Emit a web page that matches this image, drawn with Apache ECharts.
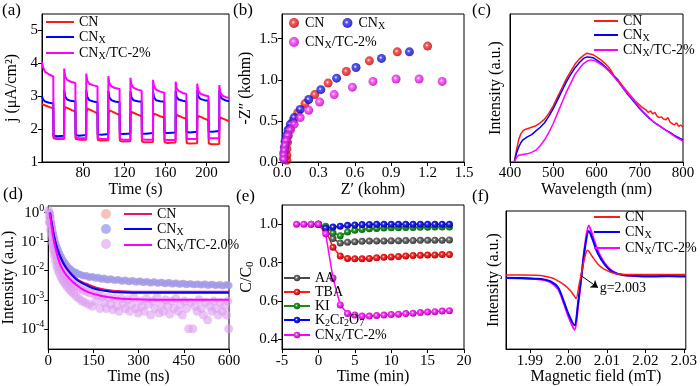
<!DOCTYPE html>
<html><head><meta charset="utf-8">
<script src="https://cdn.jsdelivr.net/npm/echarts@6/dist/echarts.min.js"></script>
<style>html,body{margin:0;padding:0;background:#fff}#c{width:700px;height:386px}</style>
</head><body><div id="c"></div>
<script>
// ---------- (a) transient photocurrent: [time s, j µA/cm2]
const aTicks = [80,120,160,200];
const aCN = [[40,2.76],[44,2.71],[48,2.66],[51,2.63],[51.3,1.72],[54,1.7],[61.5,1.7],
 [61.7,2.55],[62.6,2.67],[65,2.64],[69,2.58],[72.5,2.53],[72.8,1.7],[76,1.68],[83,1.68],
 [83.2,2.5],[84.1,2.62],[86.5,2.59],[90,2.54],[94,2.48],[94.3,1.67],[97,1.65],[104.5,1.66],
 [104.7,2.46],[105.6,2.57],[108,2.54],[112,2.48],[115.5,2.43],[115.8,1.65],[118,1.62],[126,1.63],
 [126.2,2.42],[127.1,2.52],[129.5,2.49],[133,2.44],[137,2.39],[137.3,1.62],[140,1.6],[148,1.61],
 [148.2,2.38],[149.1,2.47],[151.5,2.44],[155,2.39],[159,2.35],[159.3,1.6],[162,1.58],[170,1.59],
 [170.2,2.34],[171.1,2.43],[173.5,2.4],[177,2.35],[180.5,2.31],[180.8,1.58],[183,1.56],[191,1.57],
 [191.2,2.3],[192.1,2.4],[194.5,2.37],[198,2.32],[202,2.27],[202.3,1.56],[205,1.54],[212.5,1.55],
 [212.7,2.27],[213.6,2.36],[216,2.32],[219,2.28],[222,2.24]];
const aCNX = [[40,3.0],[41,2.9],[43,2.84],[47,2.8],[51,2.78],[51.2,1.8],[55,1.78],[61.5,1.8],
 [61.6,3.2],[62.5,3.0],[64.5,2.9],[68,2.86],[72.5,2.84],[72.7,1.82],[76,1.8],[83,1.82],
 [83.1,3.18],[84,2.98],[86,2.88],[90,2.84],[94,2.82],[94.2,1.84],[98,1.83],[104.5,1.85],
 [104.6,3.16],[105.5,2.97],[107.5,2.88],[111,2.84],[115.5,2.82],[115.7,1.86],[119,1.85],[126,1.87],
 [126.1,3.15],[127,2.97],[129,2.88],[133,2.85],[137,2.83],[137.2,1.87],[141,1.86],[148,1.88],
 [148.1,3.15],[149,2.97],[151,2.88],[155,2.85],[159,2.83],[159.2,1.89],[163,1.88],[170,1.9],
 [170.1,3.16],[171,2.98],[173,2.9],[177,2.86],[180.5,2.84],[180.7,1.91],[184,1.9],[191,1.92],
 [191.1,3.18],[192,3.0],[194,2.92],[198,2.88],[202,2.86],[202.2,1.93],[206,1.92],[212.5,1.94],
 [212.6,3.2],[213.5,3.0],[215.5,2.92],[219,2.87],[222,2.85]];
const aTC = [[40,4.05],[41,3.88],[43,3.74],[47,3.66],[51,3.6],[51.2,1.75],[55,1.72],[61.5,1.72],
 [61.6,3.84],[62.5,3.6],[64.5,3.5],[68,3.44],[72.5,3.4],[72.7,1.74],[76,1.72],[83,1.72],
 [83.1,3.69],[84,3.48],[86,3.38],[90,3.33],[94,3.3],[94.2,1.72],[98,1.7],[104.5,1.7],
 [104.6,3.61],[105.5,3.4],[107.5,3.3],[111,3.25],[115.5,3.22],[115.7,1.7],[119,1.68],[126,1.68],
 [126.1,3.56],[127,3.36],[129,3.26],[133,3.2],[137,3.17],[137.2,1.69],[141,1.68],[148,1.68],
 [148.1,3.5],[149,3.3],[151,3.2],[155,3.14],[159,3.11],[159.2,1.68],[163,1.67],[170,1.67],
 [170.1,3.44],[171,3.25],[173,3.16],[177,3.1],[180.5,3.07],[180.7,1.7],[184,1.7],[191,1.7],
 [191.1,3.38],[192,3.18],[194,3.08],[198,3.03],[202,3.0],[202.2,1.72],[206,1.72],[212.5,1.72],
 [212.6,3.34],[213.5,3.12],[215.5,3.02],[219,2.97],[222,2.95]];

// ---------- (b) Nyquist: [Z' kohm, -Z'' kohm]
const bCN = [[1.2,1.41],[0.95,1.34],[0.72,1.23],[0.53,1.1],[0.38,0.96],[0.27,0.82],[0.19,0.71],[0.13,0.6],[0.09,0.5],[0.065,0.41],[0.05,0.32],[0.045,0.24],[0.04,0.16],[0.04,0.08],[0.04,0.02]];
const bCNX = [[1.05,1.34],[0.82,1.26],[0.61,1.15],[0.45,1.02],[0.32,0.88],[0.22,0.76],[0.15,0.64],[0.1,0.54],[0.07,0.46],[0.05,0.39],[0.035,0.32],[0.025,0.25],[0.02,0.18],[0.015,0.11],[0.015,0.04]];
const bTC = [[1.32,0.98],[1.13,1.01],[0.94,1.01],[0.75,0.98],[0.58,0.91],[0.43,0.82],[0.31,0.73],[0.22,0.63],[0.15,0.54],[0.1,0.46],[0.07,0.39],[0.05,0.32],[0.035,0.26],[0.025,0.2],[0.02,0.14],[0.015,0.08],[0.015,0.03]];

// ---------- (c) PL spectra: [wavelength nm, intensity a.u.]
const cCN = [[410,0],[415,0.08],[420,0.15],[425,0.19],[430,0.21],[435,0.22],[440,0.225],[450,0.235],[460,0.245],[470,0.265],[480,0.29],[490,0.33],[500,0.38],[510,0.44],[520,0.5],[530,0.56],[540,0.61],[550,0.66],[560,0.695],[570,0.72],[578,0.735],[585,0.73],[592,0.725],[600,0.71],[610,0.69],[620,0.665],[628,0.64],[632,0.625],[636,0.615],[640,0.585],[650,0.555],[660,0.515],[670,0.48],[680,0.445],[690,0.41],[700,0.385],[705,0.37],[710,0.36],[715,0.35],[720,0.335],[725,0.345],[730,0.325],[735,0.335],[740,0.31],[745,0.3],[750,0.305],[755,0.29],[760,0.285],[765,0.3],[770,0.27],[775,0.26],[780,0.25],[785,0.265],[790,0.24],[795,0.25],[800,0.235]];
const cCNX = [[410,0],[415,0.06],[420,0.1],[425,0.13],[430,0.15],[440,0.17],[450,0.185],[460,0.21],[470,0.235],[480,0.265],[490,0.31],[500,0.36],[510,0.42],[520,0.48],[530,0.54],[540,0.59],[550,0.635],[560,0.67],[570,0.7],[578,0.71],[585,0.708],[592,0.705],[600,0.69],[610,0.67],[620,0.645],[630,0.615],[640,0.58],[650,0.545],[660,0.505],[670,0.465],[680,0.43],[690,0.395],[700,0.36],[710,0.33],[720,0.3],[730,0.275],[740,0.255],[750,0.235],[760,0.215],[770,0.2],[780,0.18],[790,0.165],[800,0.15]];
const cTC = [[410,0],[415,0.03],[420,0.045],[430,0.05],[440,0.055],[450,0.065],[460,0.08],[470,0.11],[480,0.15],[490,0.2],[500,0.26],[510,0.33],[520,0.4],[530,0.47],[540,0.53],[550,0.59],[560,0.63],[570,0.665],[580,0.685],[587,0.69],[595,0.685],[605,0.67],[615,0.65],[625,0.625],[635,0.595],[645,0.56],[655,0.525],[665,0.49],[675,0.455],[685,0.42],[695,0.385],[705,0.35],[715,0.32],[725,0.29],[735,0.265],[745,0.245],[755,0.225],[765,0.205],[775,0.185],[785,0.165],[795,0.15],[800,0.14]];

// ---------- (d) TRPL decay: [time ns, intensity]
const dCN = [[2,0.5],[5,0.95],[8,0.8],[11,0.5],[14,0.32],[17,0.21],[20,0.15],[24,0.1],[28,0.07],[32,0.052],[37,0.04],[42,0.031],[47,0.025],[53,0.02],[59,0.016],[66,0.013],[73,0.011],[80,0.0098],[88,0.0088],[96,0.008],[105,0.0074],[114,0.0068],[123,0.0066],[132,0.0061],[141,0.0058],[150,0.0062],[160,0.0054],[170,0.0056],[180,0.005],[190,0.0053],[200,0.0047],[212,0.0051],[224,0.0045],[236,0.0049],[248,0.0043],[260,0.0047],[272,0.0042],[284,0.0045],[296,0.004],[308,0.0044],[320,0.0039],[332,0.0042],[344,0.0038],[356,0.0041],[368,0.0037],[380,0.004],[392,0.0036],[404,0.0039],[416,0.0035],[428,0.0038],[440,0.0034],[452,0.0037],[464,0.0034],[476,0.0036],[488,0.0033],[500,0.0035],[512,0.0032],[524,0.0035],[536,0.0032],[548,0.0034],[560,0.0031],[572,0.0034],[584,0.0031],[596,0.0033]];
const dCNX = [[3,0.7],[6,1.0],[9,0.7],[12,0.42],[15,0.28],[18,0.19],[22,0.125],[26,0.085],[30,0.063],[34,0.05],[39,0.038],[44,0.03],[50,0.023],[56,0.019],[62,0.0155],[69,0.0128],[76,0.011],[84,0.0095],[92,0.0088],[100,0.0078],[109,0.0073],[118,0.0066],[127,0.0069],[136,0.006],[145,0.0064],[155,0.0056],[165,0.006],[175,0.0052],[185,0.0056],[195,0.0049],[206,0.0053],[218,0.0047],[230,0.005],[242,0.0044],[254,0.0048],[266,0.0042],[278,0.0046],[290,0.0041],[302,0.0044],[314,0.0039],[326,0.0043],[338,0.0038],[350,0.0042],[362,0.0037],[374,0.004],[386,0.0036],[398,0.0039],[410,0.0035],[422,0.0038],[434,0.0034],[446,0.0037],[458,0.0033],[470,0.0036],[482,0.0033],[494,0.0035],[506,0.0032],[518,0.0035],[530,0.0031],[542,0.0034],[554,0.0031],[566,0.0033],[578,0.003],[590,0.0033],[600,0.0031]];
const dTC = [[1,1.2],[3,1.0],[5,0.7],[4,0.45],[7,0.45],[8,0.25],[10,0.3],[11,0.15],[13,0.18],[14,0.09],[16,0.1],[17,0.055],[19,0.065],[20,0.035],[22,0.045],[24,0.022],[26,0.032],[28,0.015],[30,0.024],[32,0.011],[34,0.018],[36,0.0085],[39,0.014],[41,0.0065],[44,0.011],[46,0.0052],[49,0.0088],[51,0.0042],[55,0.0072],[57,0.0034],[61,0.006],[63,0.0028],[67,0.005],[70,0.0023],[74,0.0042],[77,0.0019],[81,0.0036],[85,0.0016],[89,0.0031],[93,0.0013],[97,0.0027],[102,0.0011],[107,0.0024],[112,0.0009],[117,0.0021],[122,0.0008],[128,0.0019],[134,0.0007],[140,0.0017],[146,0.0006],[152,0.0016],[158,0.0009],[165,0.0014],[172,0.0005],[179,0.0013],[186,0.0008],[193,0.0005],[200,0.0012],[207,0.0007],[214,0.00045],[221,0.0011],[228,0.0006],[235,0.0004],[242,0.0011],[249,0.00075],[256,0.0005],[263,0.001],[270,0.0004],[277,0.0007],[284,0.0012],[291,0.0005],[298,0.00035],[305,0.0009],[312,0.0006],[319,0.0004],[326,0.0011],[333,0.0007],[340,0.0003],[347,0.0009],[354,0.0005],[361,0.0012],[368,0.00035],[375,0.0007],[382,0.0004],[389,0.001],[396,0.0006],[403,0.00032],[410,0.0009],[417,0.0005],[424,0.0011],[431,0.0004],[438,0.0007],[445,0.0003],[452,0.0009],[459,0.0005],[466,0.0001],[473,0.0008],[480,0.0001],[487,0.0006],[494,0.0004],[501,0.001],[508,0.0005],[515,0.0003],[522,0.0008],[529,0.0002],[536,0.0006],[543,0.0004],[550,0.0009],[557,0.0005],[564,0.0003],[571,0.0008],[578,0.0004],[585,0.0006],[592,0.0003],[596,0.0009],[599,0.0001]];
const dFitCN = [[6,1.0],[10,0.55],[15,0.28],[20,0.15],[28,0.07],[36,0.04],[46,0.023],[57,0.0145],[70,0.0095],[84,0.0066],[100,0.0048],[128,0.0035],[160,0.0026],[192,0.0022],[230,0.002],[280,0.0019],[350,0.0019],[600,0.0019]];
const dFitCNX = [[6,1.0],[10,0.53],[15,0.27],[20,0.145],[28,0.068],[36,0.038],[46,0.022],[57,0.0138],[70,0.009],[84,0.0062],[100,0.0045],[128,0.0031],[160,0.0023],[192,0.002],[230,0.0018],[280,0.00175],[350,0.00175],[600,0.00175]];
const dFitTC = [[4,1.0],[8,0.6],[13,0.25],[19.5,0.1],[27,0.045],[36,0.021],[48,0.011],[63,0.0065],[80,0.0043],[106,0.0026],[135,0.0018],[171,0.0014],[220,0.00115],[279,0.00105],[400,0.001],[600,0.001]];
const dTicks = [1e-4,1e-3,1e-2,1e-1,1];

// ---------- (e) trapping experiments: [time min, C/C0]
const eAA = [[-1,1.0],[0,1.0],[1,0.977],[2,0.925],[3,0.902],[4,0.906],[5,0.909],[6,0.911],[7,0.912],[8,0.913],[9,0.913],[10,0.914],[11,0.914],[12,0.915],[13,0.915],[14,0.916],[15,0.916],[16,0.917],[17,0.917],[18,0.918]];
const eTBA = [[0,1.0],[1,0.97],[2,0.88],[3,0.835],[4,0.822],[5,0.82],[6,0.82],[7,0.822],[8,0.825],[9,0.828],[10,0.83],[11,0.832],[12,0.835],[13,0.837],[14,0.838],[15,0.84],[16,0.84],[17,0.842],[18,0.842]];
const eKI = [[0,1.0],[1,0.99],[2,0.955],[3,0.94],[4,0.96],[5,0.968],[6,0.973],[7,0.976],[8,0.978],[9,0.98],[10,0.981],[11,0.982],[12,0.983],[13,0.983],[14,0.984],[15,0.984],[16,0.985],[17,0.985],[18,0.985]];
const eK2 = [[0,1.0],[1,0.98],[2,0.985],[3,0.99],[4,0.994],[5,0.996],[6,0.998],[7,0.999],[8,1.0],[9,1.0],[10,1.0],[11,1.0],[12,1.0],[13,1.0],[14,1.0],[15,1.0],[16,1.0],[17,1.0],[18,1.0]];
const eTC = [[-3,1.0],[-2,1.0],[-1,1.0],[0,1.0],[1,0.95],[2,0.72],[3,0.58],[4,0.535],[5,0.527],[6,0.522],[7,0.522],[8,0.525],[9,0.527],[10,0.53],[11,0.532],[12,0.535],[13,0.537],[14,0.54],[15,0.543],[16,0.545],[17,0.548],[18,0.55]];
const eYTicks = [0.4,0.6,0.8,1.0];

// ---------- (f) EPR: [field mT, intensity a.u.]
const fCN = [[1.9838,0.537],[1.988,0.537],[1.9915,0.535],[1.9936,0.53],[1.996,0.513],[1.9973,0.494],[1.9992,0.46],[2.0006,0.42],[2.0014,0.39],[2.002,0.366],[2.0028,0.47],[2.0034,0.55],[2.0044,0.68],[2.005,0.715],[2.0062,0.67],[2.0077,0.615],[2.0095,0.575],[2.0124,0.545],[2.016,0.54],[2.02,0.54],[2.025,0.54],[2.0305,0.54]];
const fCNX = [[1.9838,0.517],[1.988,0.515],[1.9915,0.51],[1.9936,0.505],[1.9954,0.49],[1.9973,0.448],[1.9987,0.355],[2.0001,0.25],[2.0016,0.173],[2.0025,0.33],[2.0034,0.53],[2.0044,0.75],[2.0053,0.855],[2.0062,0.8],[2.0077,0.69],[2.0095,0.61],[2.0114,0.56],[2.0142,0.536],[2.018,0.53],[2.022,0.527],[2.026,0.53],[2.0305,0.528]];
const fTC = [[1.9838,0.515],[1.988,0.512],[1.9915,0.507],[1.9936,0.5],[1.9954,0.483],[1.9973,0.435],[1.9987,0.34],[2.0001,0.23],[2.0016,0.14],[2.0025,0.31],[2.0034,0.53],[2.0044,0.77],[2.0053,0.895],[2.0062,0.83],[2.0077,0.71],[2.0095,0.62],[2.0114,0.565],[2.0142,0.536],[2.018,0.528],[2.022,0.525],[2.026,0.527],[2.0305,0.525]];
const fTicks = [1.99,2.00,2.01,2.02,2.03];
const fArrow = [[2.0034,0.53],[2.0077,0.445]];

// ---------- styling
const FONT = '"Liberation Serif","Times New Roman",serif';
const RICH = {
  n:{fontFamily:FONT,fontSize:14,color:'#000',lineHeight:16},
  s:{fontFamily:FONT,fontSize:10,color:'#000',lineHeight:8,verticalAlign:'bottom'},
  b:{fontFamily:FONT,fontSize:15,color:'#000',lineHeight:18},
  p:{fontFamily:FONT,fontSize:10,color:'#000',lineHeight:8,verticalAlign:'top'},
  nm:{fontFamily:FONT,fontSize:16,color:'#000',lineHeight:18},
  ns:{fontFamily:FONT,fontSize:11,color:'#000',lineHeight:9,verticalAlign:'bottom'}
};
const LBL = {CN:'{n|CN}',CNX:'{n|CN}{s|X}',TC:'{n|CN}{s|X}{n|/TC-2%}',TC20:'{n|CN}{s|X}{n|/TC-2.0%}',
  AA:'{n|AA}',TBA:'{n|TBA}',KI:'{n|KI}',K2:'{n|K}{s|2}{n|Cr}{s|2}{n|O}{s|7}'};
const fmt = name => LBL[name.split('|')[1]] || '{n| }';
const RED='#ff1a1a', BLUE='#0000ff', MAG='#ff00ff';
function sphere(c, d){return {type:'radial',x:0.42,y:0.42,r:0.6,colorStops:[{offset:0,color:'#ffffff'},{offset:0.3,color:c},{offset:1,color:d}]};}

const lineAx = {show:true,onZero:false,lineStyle:{color:'#000',width:1}};
function ax(gi, o){
  const base = {gridIndex:gi,type:'value',axisLine:lineAx,splitLine:{show:false},
    axisTick:{show:true,inside:false,length:4,lineStyle:{color:'#000'}},
    axisLabel:{color:'#000',fontFamily:FONT,fontSize:15,margin:4},
    nameLocation:'middle',nameTextStyle:{fontFamily:FONT,fontSize:16,color:'#000'}};
  const r = Object.assign({}, base, o);
  if (o.axisLabel) r.axisLabel = Object.assign({}, base.axisLabel, o.axisLabel);
  if (o.axisTick) r.axisTick = Object.assign({}, base.axisTick, o.axisTick);
  if (o.nameTextStyle) r.nameTextStyle = Object.assign({}, base.nameTextStyle, o.nameTextStyle);
  return r;
}
const f1 = v => v.toFixed(1), f2 = v => v.toFixed(2);
const grid = (l,t,w,h)=>({left:l,top:t,width:w,height:h,show:true,borderColor:'#000',borderWidth:1,backgroundColor:'transparent'});
function lg(o){return Object.assign({orient:'vertical',padding:0,itemGap:1,itemWidth:28,itemHeight:10,formatter:fmt,selectedMode:false,
  textStyle:{fontFamily:FONT,fontSize:14,color:'#000',rich:RICH}},o);}
// legends made of plain line strokes (line series without markers)
function lgLine(o){return lg(Object.assign({icon:'rect',itemHeight:2},o));}
function ln(name,gi,data,color,w,extra){return Object.assign({name:name,type:'line',xAxisIndex:gi,yAxisIndex:gi,data:data,symbol:'none',
  lineStyle:{color:color,width:w},itemStyle:{color:color},animation:false,z:3},extra||{});}

const option = {
  animation:false,
  textStyle:{fontFamily:FONT},
  grid:[grid(42,14,187,148),grid(282,14,182,148),grid(510,14,173,148),grid(44,206,185,148),grid(282,205,182,148),grid(506,211,180,143)],
  xAxis:[
    ax(0,{min:40,max:222,name:'Time (s)',nameGap:12,axisLabel:{customValues:aTicks},axisTick:{customValues:aTicks}}),
    ax(1,{min:0,max:1.5,interval:0.3,name:'Z\u2032 (kohm)',nameGap:12,axisLabel:{formatter:f1}}),
    ax(2,{min:400,max:800,interval:100,name:'Wavelength (nm)',nameGap:12}),
    ax(3,{min:0,max:600,interval:150,name:'Time (ns)',nameGap:12}),
    ax(4,{min:-5,max:20,interval:5,name:'Time (min)',nameGap:12}),
    ax(5,{min:1.9838,max:2.0305,name:'Magnetic field (mT)',nameGap:12,axisLabel:{customValues:fTicks,formatter:f2},axisTick:{customValues:fTicks}})
  ],
  yAxis:[
    ax(0,{min:1,max:5.5,name:'j (\u03bcA/cm\u00b2)',nameGap:22,axisLabel:{customValues:[1,2,3,4,5]},axisTick:{customValues:[1,2,3,4,5]}}),
    ax(1,{min:0,max:1.8,name:'-Z\u2033 (kohm)',nameGap:28,axisLabel:{customValues:[0,0.5,1,1.5],formatter:f1},axisTick:{customValues:[0,0.5,1,1.5]}}),
    ax(2,{min:0,max:1,name:'Intensity (a.u.)',nameGap:6,axisLabel:{show:false},axisTick:{show:false}}),
    ax(3,{type:'log',logBase:10,min:2e-5,max:1.7,name:'Intensity (a.u.)',nameGap:27,
      axisLabel:{customValues:dTicks,rich:RICH,formatter:v=>'{b|10}{p|'+Math.round(Math.log10(v))+'}'},axisTick:{customValues:dTicks}}),
    ax(4,{min:0.35,max:1.1,name:'{nm|C/C}{ns|0}',nameGap:25,nameTextStyle:{rich:RICH},axisLabel:{customValues:eYTicks,formatter:f1},axisTick:{customValues:eYTicks}}),
    ax(5,{min:0,max:1,name:'Intensity (a.u.)',nameGap:4,axisLabel:{show:false},axisTick:{show:false}})
  ],
  legend:[
    lgLine({left:46,top:15,itemGap:1,data:['a|CN','a|CNX','a|TC']}),
    lg({orient:'horizontal',left:289,top:16,itemGap:18,itemWidth:12,itemHeight:10,data:['b|CN','b|CNX']}),
    lg({orient:'horizontal',left:289,top:35,itemWidth:12,itemHeight:10,data:['b|TC']}),
    lgLine({left:594,top:14,itemWidth:24,itemGap:0,data:['c|CN','c|CNX','c|TC']}),
    lg({left:101,top:207,itemWidth:11,itemHeight:10,data:['d|s1','d|s2','d|s3']}),
    lgLine({left:124,top:207,data:['d|CN','d|CNX','d|TC20']}),
    lg({left:283,top:271,itemGap:0,itemWidth:26,itemHeight:8,data:['e|AA','e|TBA','e|KI','e|K2','e|TC']}),
    lgLine({left:594,top:210,itemWidth:26,data:['f|CN','f|CNX','f|TC']})
  ],
  graphic:[
    ['(a)',2,2],['(b)',233,2],['(c)',472,2],['(d)',3,186],['(e)',236,188],['(f)',472,188]
  ].map(([t,x,y])=>({type:'text',left:x,top:y,style:{text:t,font:'17px '+FONT,fill:'#000'}})),
  series:[
    ln('a|CN',0,aCN,RED,2), ln('a|CNX',0,aCNX,BLUE,2), ln('a|TC',0,aTC,MAG,2),
    {name:'b|CN',type:'scatter',xAxisIndex:1,yAxisIndex:1,data:bCN,symbolSize:9,itemStyle:{color:sphere('#ff3030','#b00000')}},
    {name:'b|CNX',type:'scatter',xAxisIndex:1,yAxisIndex:1,data:bCNX,symbolSize:9,itemStyle:{color:sphere('#2a2aff','#00009a')}},
    {name:'b|TC',type:'scatter',xAxisIndex:1,yAxisIndex:1,data:bTC,symbolSize:9,itemStyle:{color:sphere('#ff3cff','#b000b0')}},
    ln('c|CN',2,cCN,RED,1.5), ln('c|CNX',2,cCNX,BLUE,1.5), ln('c|TC',2,cTC,MAG,1.5),
    {name:'d|s1',type:'scatter',xAxisIndex:3,yAxisIndex:3,data:dCN,symbolSize:7,itemStyle:{color:'#f6aea6',opacity:0.75}},
    {name:'d|s2',type:'scatter',xAxisIndex:3,yAxisIndex:3,data:dCNX,symbolSize:7,itemStyle:{color:'#9a9af0',opacity:0.75}},
    {name:'d|s3',type:'scatter',xAxisIndex:3,yAxisIndex:3,data:dTC,symbolSize:9,itemStyle:{color:'#dc9cf0',opacity:0.6}},
    ln('d|CN',3,dFitCN,'#e8155a',2,{smooth:true}), ln('d|CNX',3,dFitCNX,BLUE,2,{smooth:true}), ln('d|TC20',3,dFitTC,MAG,2,{smooth:true}),
    ln('e|AA',4,eAA,'#4a4a4a',1.5,{symbol:'circle',symbolSize:7,itemStyle:{color:sphere('#777','#333')}}),
    ln('e|TBA',4,eTBA,RED,1.5,{symbol:'circle',symbolSize:7,itemStyle:{color:sphere('#ff3030','#b00000')}}),
    ln('e|KI',4,eKI,'#1a8a1a',1.5,{symbol:'circle',symbolSize:7,itemStyle:{color:sphere('#2aa02a','#0a600a')}}),
    ln('e|K2',4,eK2,BLUE,1.5,{symbol:'circle',symbolSize:7,itemStyle:{color:sphere('#2a2aff','#00009a')}}),
    ln('e|TC',4,eTC,MAG,1.5,{symbol:'circle',symbolSize:7,itemStyle:{color:sphere('#ff3cff','#b000b0')}}),
    ln('f|TC',5,fTC,MAG,2,{smooth:0.3}), ln('f|CNX',5,fCNX,BLUE,2,{smooth:0.3}),
    ln('f|CN',5,fCN,RED,1.5,{smooth:0.3,markLine:{silent:true,symbol:['none','arrow'],symbolSize:7,animation:false,
      lineStyle:{color:'#000',width:1,type:'solid'},
      label:{show:true,position:'end',formatter:'g=2.003',fontFamily:FONT,fontSize:14,color:'#000',distance:2},
      data:[[{coord:fArrow[0]},{coord:fArrow[1]}]]}})
  ]
};
const chart = echarts.init(document.getElementById('c'),null,{renderer:'canvas'});
chart.setOption(option);
</script></body></html>
